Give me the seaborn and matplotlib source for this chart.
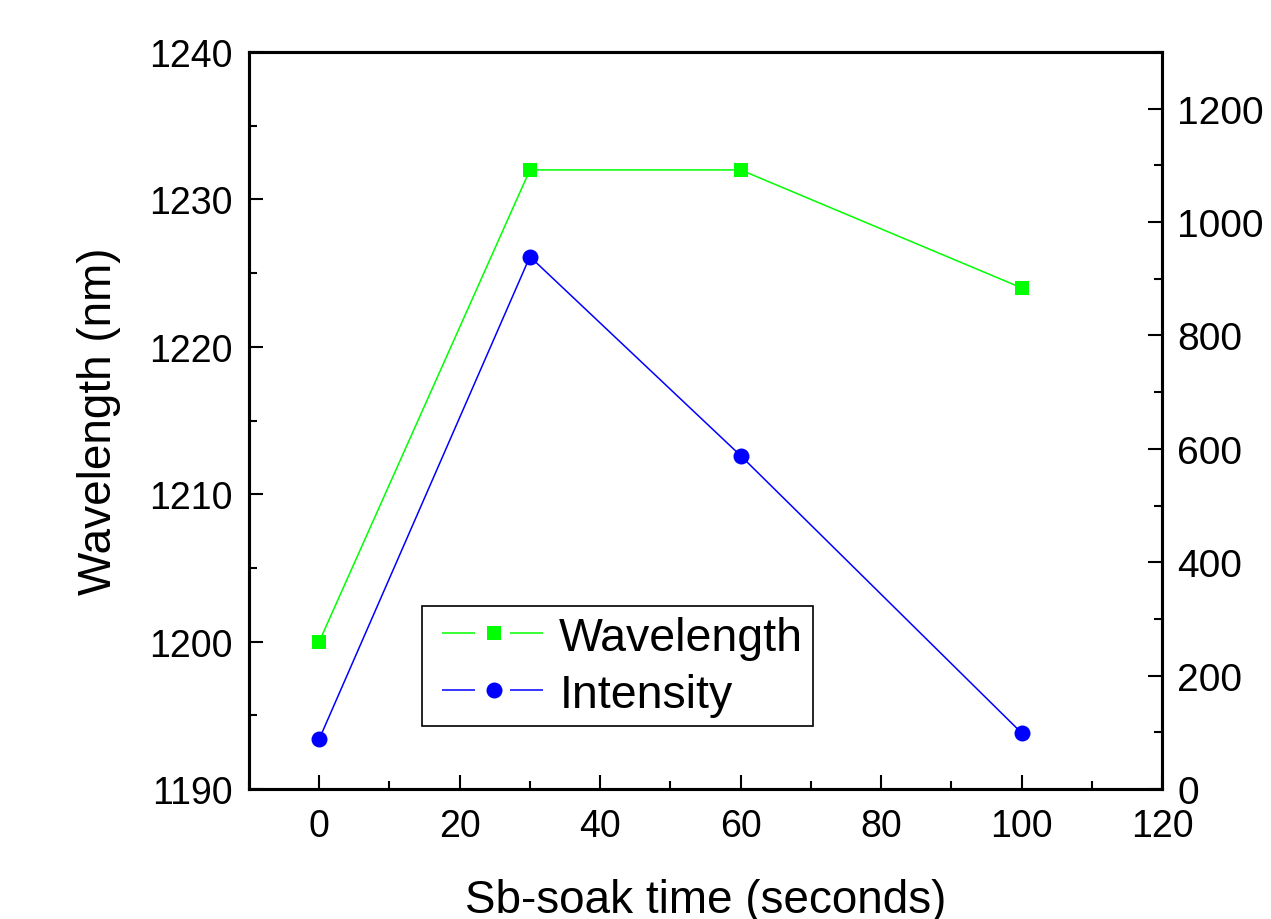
import numpy as np
import pandas as pd
import matplotlib
matplotlib.use("Agg")
import matplotlib.pyplot as plt
import seaborn as sns
from matplotlib.lines import Line2D
from matplotlib.ticker import MultipleLocator

# ---- data ----
soak_time = [0, 30, 60, 100]
wavelength = [1200, 1232, 1232, 1224]
intensity = [88, 939, 588, 99]

sns.set_theme(style="ticks")
plt.rcParams["font.family"] = ["Liberation Sans", "DejaVu Sans"]
plt.rcParams["axes.linewidth"] = 2.2
for k in ("text.color", "axes.labelcolor", "xtick.color", "ytick.color", "axes.edgecolor"):
    plt.rcParams[k] = "black"

df = pd.DataFrame({"time": soak_time, "wl": wavelength, "inten": intensity})

GREEN = "#00FF00"
BLUE = "#0000FF"
LW = 1.1

fig = plt.figure(figsize=(12.71, 9.2), dpi=100)
ax = fig.add_axes([249 / 1271, 130 / 920, 913 / 1271, 737 / 920])
ax2 = ax.twinx()

sns.lineplot(data=df, x="time", y="wl", ax=ax, color=GREEN, lw=LW,
             marker="s", markersize=10, markeredgewidth=0, legend=False)
sns.lineplot(data=df, x="time", y="inten", ax=ax2, color=BLUE, lw=LW,
             marker="o", markersize=11.5, markeredgewidth=0, legend=False)

ax.set_xlim(-10, 120)
ax.set_ylim(1190, 1240)
ax2.set_ylim(0, 1300)

ax.xaxis.set_major_locator(MultipleLocator(20))
ax.xaxis.set_minor_locator(MultipleLocator(10))
ax.yaxis.set_major_locator(MultipleLocator(10))
ax.yaxis.set_minor_locator(MultipleLocator(5))
ax2.yaxis.set_major_locator(MultipleLocator(200))
ax2.yaxis.set_minor_locator(MultipleLocator(100))

for a in (ax, ax2):
    a.tick_params(which="major", direction="in", length=10, width=1.5, pad=12)
    a.tick_params(which="minor", direction="in", length=5.8, width=1.5)
    for s in a.spines.values():
        s.set_linewidth(2.2)
        s.set_color("black")
ax.tick_params(axis="x", labelsize=27, pad=14)
ax.tick_params(axis="y", labelsize=27, pad=12)
ax2.tick_params(axis="y", labelsize=28, pad=11)
ax.tick_params(top=False, right=False, which="both")

ax.set_xlabel("Sb-soak time (seconds)", fontsize=33, labelpad=24.5)
ax.set_ylabel("Wavelength (nm)", fontsize=33, labelpad=20)
ax2.set_ylabel("Intensity (a.u.)", fontsize=33, labelpad=7.5)

# legend handles: gap - line - gap - marker - gap - line - gap (px -> pt, scaled by lw)
px = 0.72 / LW
dash = ((33 + 35 - 11) * px, (33 * px, 35 * px))
handles = [
    Line2D([], [], color=GREEN, lw=LW, linestyle=dash, marker="s",
           markersize=10, markeredgewidth=0),
    Line2D([], [], color=BLUE, lw=LW, linestyle=dash, marker="o",
           markersize=11.5, markeredgewidth=0),
]
leg = ax.legend(handles, ["Wavelength", "Intensity"], loc="lower left",
                bbox_to_anchor=(0.1895, 0.0855), borderaxespad=0,
                fontsize=33.5, handlelength=2.7, handletextpad=0.05,
                labelspacing=0.28, borderpad=0.2, fancybox=False,
                framealpha=1, edgecolor="black")
leg.get_frame().set_linewidth(1.2)

fig.savefig("out.png", dpi=100)
